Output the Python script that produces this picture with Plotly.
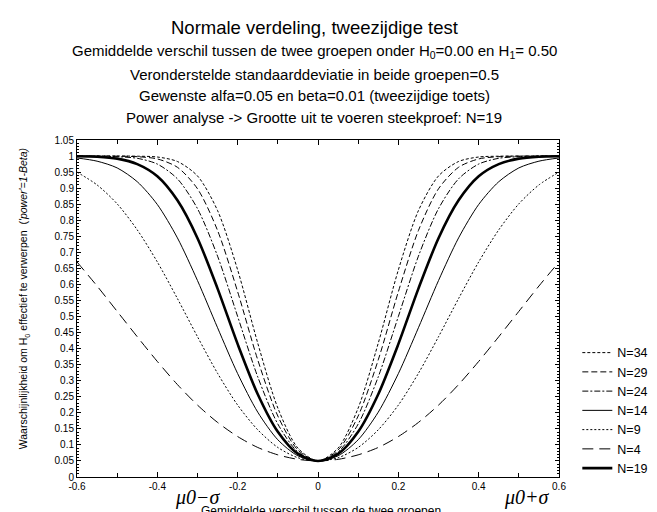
import plotly.graph_objects as go

# Difference in means (x) and power per sample size
x_vals = [-0.60, -0.55, -0.50, -0.45, -0.40, -0.35, -0.30, -0.25, -0.20, -0.15, -0.10, -0.05,
          0.00, 0.05, 0.10, 0.15, 0.20, 0.25, 0.30, 0.35, 0.40, 0.45, 0.50, 0.55, 0.60]

power_n34 = [1.000, 1.000, 1.000, 0.9995, 0.997, 0.983, 0.938, 0.830, 0.645, 0.417, 0.215, 0.090,
             0.050, 0.090, 0.215, 0.417, 0.645, 0.830, 0.938, 0.983, 0.997, 0.9995, 1.000, 1.000, 1.000]
power_n29 = [1.000, 1.000, 0.9997, 0.998, 0.991, 0.965, 0.898, 0.768, 0.577, 0.365, 0.190, 0.084,
             0.050, 0.084, 0.190, 0.365, 0.577, 0.768, 0.898, 0.965, 0.991, 0.998, 0.9997, 1.000, 1.000]
power_n24 = [1.000, 0.9997, 0.998, 0.993, 0.975, 0.929, 0.836, 0.688, 0.500, 0.312, 0.165, 0.078,
             0.050, 0.078, 0.165, 0.312, 0.500, 0.688, 0.836, 0.929, 0.975, 0.993, 0.998, 0.9997, 1.000]
power_n14 = [0.994, 0.984, 0.963, 0.920, 0.849, 0.745, 0.612, 0.465, 0.322, 0.202, 0.116, 0.066,
             0.050, 0.066, 0.116, 0.202, 0.322, 0.465, 0.612, 0.745, 0.849, 0.920, 0.963, 0.984, 0.994]
power_n9 = [0.950, 0.910, 0.851, 0.770, 0.670, 0.556, 0.437, 0.323, 0.224, 0.147, 0.092, 0.060,
            0.050, 0.060, 0.092, 0.147, 0.224, 0.323, 0.437, 0.556, 0.670, 0.770, 0.851, 0.910, 0.950]
power_n4 = [0.670, 0.595, 0.516, 0.437, 0.360, 0.288, 0.224, 0.170, 0.126, 0.092, 0.069, 0.055,
            0.050, 0.055, 0.069, 0.092, 0.126, 0.170, 0.224, 0.288, 0.360, 0.437, 0.516, 0.595, 0.670]
power_n19 = [0.9995, 0.998, 0.992, 0.975, 0.937, 0.862, 0.744, 0.587, 0.414, 0.258, 0.141, 0.072,
             0.050, 0.072, 0.141, 0.258, 0.414, 0.587, 0.744, 0.862, 0.937, 0.975, 0.992, 0.998, 0.9995]

series_names = ["N=34", "N=29", "N=24", "N=14", "N=9", "N=4", "N=19"]
series_values = [power_n34, power_n29, power_n24, power_n14, power_n9, power_n4, power_n19]

x_tick_vals = [-0.6, -0.4, -0.2, 0.0, 0.2, 0.4, 0.6]
x_tick_labels = ["-0.6", "-0.4", "-0.2", "0", "0.2", "0.4", "0.6"]

styles = {
    "N=34": dict(dash="3px,2px", width=1),
    "N=29": dict(dash="6px,3px", width=1),
    "N=24": dict(dash="6px,2px,2px,2px", width=1),
    "N=14": dict(dash="solid", width=1),
    "N=9": dict(dash="2px,2px", width=1),
    "N=4": dict(dash="11px,6px", width=1),
    "N=19": dict(dash="solid", width=2.6),
}

fig = go.Figure()
for name, vals in zip(series_names, series_values):
    st = styles[name]
    fig.add_trace(go.Scatter(
        x=x_vals, y=vals, name=name, mode="lines",
        line=dict(color="black", width=st["width"], dash=st["dash"], shape="spline", smoothing=0.8),
    ))

FONT = "Liberation Sans, Arial, sans-serif"
L, R, T, B = 69, 94, 132, 43

fig.update_layout(
    width=657, height=512,
    margin=dict(l=L, r=R, t=T, b=B),
    paper_bgcolor="white", plot_bgcolor="white",
    font=dict(family=FONT, color="black", size=10),
    showlegend=True,
    legend=dict(x=1.038, xanchor="left", y=0.4125, yanchor="top",
                font=dict(family=FONT, size=12.5, color="black"),
                bgcolor="rgba(0,0,0,0)", borderwidth=0, itemwidth=30),
)

fig.update_xaxes(
    range=[-0.6, 0.6], tickmode="array", tickvals=x_tick_vals, ticktext=x_tick_labels,
    ticks="inside", ticklen=5, tickcolor="black", tickwidth=1,
    showline=True, linecolor="black", linewidth=1, mirror="ticks",
    showgrid=False, zeroline=False,
    tickfont=dict(family=FONT, size=10),
    minor=dict(dtick=0.1, tick0=-0.6, ticks="inside", ticklen=4, tickcolor="black", showgrid=False),
)
fig.update_yaxes(
    range=[0, 1.05], dtick=0.05, tick0=0,
    ticks="inside", ticklen=4, tickcolor="black", tickwidth=1,
    showline=True, linecolor="black", linewidth=1, mirror="ticks",
    showgrid=False, zeroline=False,
    tickfont=dict(family=FONT, size=10),
    minor=dict(dtick=0.01, ticks="inside", ticklen=2, tickcolor="black", showgrid=False),
)

plot_h = 512 - T - B
def py(ypx):
    return (512 - B - ypx) / plot_h

title_x = (312 - L) / (657 - L - R)

titles = [
    ("Normale verdeling, tweezijdige test", 19, 18.5),
    ("Gemiddelde verschil tussen de twee groepen onder H<sub>0</sub>=0.00 en H<sub>1</sub>= 0.50", 43, 15),
    ("Veronderstelde standaarddeviatie in beide groepen=0.5", 67, 15),
    ("Gewenste alfa=0.05 en beta=0.01 (tweezijdige toets)", 88, 15),
    ("Power analyse -> Grootte uit te voeren steekproef: N=19", 109, 15),
]
for text, ypx, size in titles:
    fig.add_annotation(text=text, xref="paper", yref="paper", x=title_x, y=py(ypx),
                       xanchor="center", yanchor="middle", showarrow=False,
                       font=dict(family=FONT, size=size, color="black"))

fig.add_annotation(text="Gemiddelde verschil tussen de twee groepen", xref="paper", yref="paper",
                   x=(319 - L) / (657 - L - R), y=py(503), xanchor="center", yanchor="middle",
                   showarrow=False, font=dict(family=FONT, size=12, color="black"))

fig.add_annotation(text="Waarschijnlijkheid om H<sub>0</sub> effectief te verwerpen  (<i>'power'=1-Beta)</i>",
                   xref="paper", yref="paper", x=(15 - L) / (657 - L - R), y=py(291),
                   xanchor="center", yanchor="middle", textangle=-90, showarrow=False,
                   font=dict(family=FONT, size=10.5, color="black"))

SERIF = "Liberation Serif, Times New Roman, serif"
fig.add_annotation(text="<i>μ0−σ</i>", xref="x", yref="paper", x=-0.30, y=py(489),
                   xanchor="center", yanchor="middle", showarrow=False,
                   font=dict(family=SERIF, size=20, color="black"))
fig.add_annotation(text="<i>μ0+σ</i>", xref="x", yref="paper", x=0.52, y=py(489),
                   xanchor="center", yanchor="middle", showarrow=False,
                   font=dict(family=SERIF, size=20, color="black"))

fig.write_html("out.html")
